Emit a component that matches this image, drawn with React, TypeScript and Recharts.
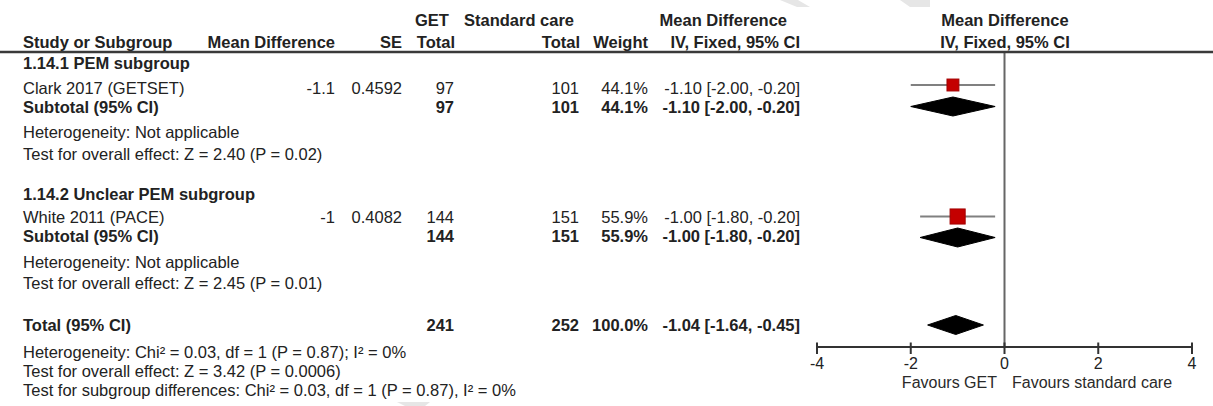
import React from 'react';
import { ScatterChart, Scatter, XAxis, YAxis, ReferenceLine } from 'recharts';

// ---------- data ----------
const subgroupTitles = ['1.14.1 PEM subgroup', '1.14.2 Unclear PEM subgroup'];
const studyNames = ['Clark 2017 (GETSET)', 'White 2011 (PACE)'];
const studyMD = [-1.1, -1];
const studySE = [0.4592, 0.4082];
const studyGET = [97, 144];
const studySC = [101, 151];
const studyWeight = [44.1, 55.9];
const studyLow = [-2.0, -1.8];
const studyHigh = [-0.2, -0.2];

const subtotalGET = [97, 144];
const subtotalSC = [101, 151];
const subtotalWeight = [44.1, 55.9];
const subtotalMD = [-1.1, -1.0];
const subtotalLow = [-2.0, -1.8];
const subtotalHigh = [-0.2, -0.2];
const subHeterogeneity = ['Heterogeneity: Not applicable', 'Heterogeneity: Not applicable'];
const subOverall = ['Test for overall effect: Z = 2.40 (P = 0.02)', 'Test for overall effect: Z = 2.45 (P = 0.01)'];

const totalGET = [241];
const totalSC = [252];
const totalWeight = [100.0];
const totalMD = [-1.04];
const totalLow = [-1.64];
const totalHigh = [-0.45];
const totalStats = [
  'Heterogeneity: Chi² = 0.03, df = 1 (P = 0.87); I² = 0%',
  'Test for overall effect: Z = 3.42 (P = 0.0006)',
  'Test for subgroup differences: Chi² = 0.03, df = 1 (P = 0.87), I² = 0%',
];

const xTicks = [-4, -2, 0, 2, 4];
const favourLabels = ['Favours GET', 'Favours standard care'];

// ---------- layout ----------
const W = 1213;
const H = 406;
const FONT = "'Liberation Sans', Arial, Helvetica, sans-serif";
const FS = 16.5;
const TEXT = '#222';
const PLOT_TOP = 52;
const PLOT_BOTTOM = 347;

const STUDY_MARK_Y = [85, 216.5];
const SUBTOTAL_MARK_Y = [106.5, 237.5];
const TOTAL_MARK_Y = 325;
const DIAMOND_HALF = 9.5;
const SQUARE_PER_WEIGHT = 0.27;

const BL = {
  h1: 26,
  h2: 48,
  sub: [69, 199.5],
  study: [94, 223],
  subtotal: [112.5, 242],
  het: [138, 268],
  test: [160, 289],
  total: 330.5,
  stats: [358, 377, 395.5],
};
const COL = { name: 23, md: 335, se: 402, get: 454, sc: 579, weight: 648, ci: 800 };

const fmtCI = (m: number, l: number, h: number) => `${m.toFixed(2)} [${l.toFixed(2)}, ${h.toFixed(2)}]`;
const fmtW = (w: number) => `${w.toFixed(1)}%`;

function T({ x, y, anchor = 'start', bold = false, children, size = FS, fill = TEXT }: any) {
  return (
    <text x={x} y={y} textAnchor={anchor} fontWeight={bold ? 700 : 400} fontSize={size} fontFamily={FONT} fill={fill} style={{ whiteSpace: 'pre' }}>
      {children}
    </text>
  );
}

const NoShape = () => <g />;

const SquareShape = (p: any) => {
  const s = SQUARE_PER_WEIGHT * p.payload.w;
  return <rect x={p.cx - s / 2} y={p.cy - s / 2} width={s} height={s} fill="#c40000" stroke="#a30000" strokeWidth={1} />;
};

const DiamondLine = (props: any) => {
  const pts = (props.points || []).map((p: any) => [p.x ?? p.cx, p.y ?? p.cy]);
  if (!pts.length) return <g />;
  const d = 'M' + pts.map((p: number[]) => `${p[0]},${p[1]}`).join('L') + 'Z';
  return <path d={d} fill="#000" stroke="#000" strokeWidth={1} />;
};

const AxisTick = (props: any) => {
  const { x, y, payload } = props;
  return (
    <g>
      <line x1={x} x2={x} y1={y - 4.5} y2={y + 7} stroke="#333" strokeWidth={2} />
      <text x={x} y={y + 21.5} textAnchor="middle" fontSize={16} fontFamily={FONT} fill={TEXT}>
        {payload.value}
      </text>
    </g>
  );
};

const diamond = (m: number, l: number, h: number, y: number) => [
  { x: l, y },
  { x: m, y: y - DIAMOND_HALF },
  { x: h, y },
  { x: m, y: y + DIAMOND_HALF },
];

const squareData = studyMD.map((m, i) => ({ x: m, y: STUDY_MARK_Y[i], w: studyWeight[i] }));
const ciData = studyMD.map((_, i) => [
  { x: studyLow[i], y: STUDY_MARK_Y[i] },
  { x: studyHigh[i], y: STUDY_MARK_Y[i] },
]);
const diamondData = [
  ...subtotalMD.map((m, i) => diamond(m, subtotalLow[i], subtotalHigh[i], SUBTOTAL_MARK_Y[i])),
  diamond(totalMD[0], totalLow[0], totalHigh[0], TOTAL_MARK_Y),
];

export default function App() {
  return (
    <div style={{ position: 'absolute', left: 0, top: 0, width: W, height: H, background: '#fff' }}>
      <div style={{ position: 'absolute', left: 0, top: 0 }}>
        <ScatterChart width={W} height={H} margin={{ top: PLOT_TOP, right: 21, bottom: 0, left: 817 }}>
          <XAxis
            type="number"
            dataKey="x"
            domain={[-4, 4]}
            ticks={xTicks}
            interval={0}
            allowDataOverflow
            height={H - PLOT_BOTTOM}
            tickLine={false}
            tickSize={0}
            tickMargin={0}
            axisLine={{ stroke: '#333', strokeWidth: 2 }}
            tick={AxisTick}
          />
          <YAxis type="number" dataKey="y" domain={[PLOT_TOP, PLOT_BOTTOM]} reversed hide />
          <ReferenceLine x={0} stroke="#666" strokeWidth={2} />
          {ciData.map((d, i) => (
            <Scatter key={`ci${i}`} data={d} shape={NoShape} line={{ stroke: '#808080', strokeWidth: 2 }} isAnimationActive={false} />
          ))}
          {diamondData.map((d, i) => (
            <Scatter key={`dm${i}`} data={d} shape={NoShape} line={DiamondLine} isAnimationActive={false} />
          ))}
          <Scatter data={squareData} shape={SquareShape} isAnimationActive={false} />
        </ScatterChart>
      </div>
      <svg width={W} height={H} style={{ position: 'absolute', left: 0, top: 0, pointerEvents: 'none' }}>
        {/* faint watermark bands */}
        <polygon points="780,0 798,0 810,7 797,7" fill="#e6e6e6" />
        <polygon points="900,0 930,0 930,7 910,7" fill="#e6e6e6" />
        <polygon points="397,402 430,402 425,406 405,406" fill="#e6e6e6" />

        {/* header */}
        <T x={415} y={BL.h1} bold>GET</T>
        <T x={464} y={BL.h1} bold>Standard care</T>
        <T x={787} y={BL.h1} bold anchor="end">Mean Difference</T>
        <T x={1005} y={BL.h1} bold anchor="middle">Mean Difference</T>
        <T x={COL.name} y={BL.h2} bold>Study or Subgroup</T>
        <T x={COL.md} y={BL.h2} bold anchor="end">Mean Difference</T>
        <T x={COL.se} y={BL.h2} bold anchor="end">SE</T>
        <T x={455} y={BL.h2} bold anchor="end">Total</T>
        <T x={580} y={BL.h2} bold anchor="end">Total</T>
        <T x={COL.weight} y={BL.h2} bold anchor="end">Weight</T>
        <T x={COL.ci} y={BL.h2} bold anchor="end">IV, Fixed, 95% CI</T>
        <T x={1005} y={BL.h2} bold anchor="middle">IV, Fixed, 95% CI</T>
        <line x1={0} x2={W} y1={52} y2={52} stroke="#3a3a3a" strokeWidth={2.5} />

        {subgroupTitles.map((title, i) => (
          <g key={title}>
            <T x={COL.name} y={BL.sub[i]} bold>{title}</T>
            <T x={COL.name} y={BL.study[i]}>{studyNames[i]}</T>
            <T x={COL.md} y={BL.study[i]} anchor="end">{String(studyMD[i])}</T>
            <T x={COL.se} y={BL.study[i]} anchor="end">{String(studySE[i])}</T>
            <T x={COL.get} y={BL.study[i]} anchor="end">{String(studyGET[i])}</T>
            <T x={COL.sc} y={BL.study[i]} anchor="end">{String(studySC[i])}</T>
            <T x={COL.weight} y={BL.study[i]} anchor="end">{fmtW(studyWeight[i])}</T>
            <T x={COL.ci} y={BL.study[i]} anchor="end">{fmtCI(studyMD[i], studyLow[i], studyHigh[i])}</T>

            <T x={COL.name} y={BL.subtotal[i]} bold>Subtotal (95% CI)</T>
            <T x={COL.get} y={BL.subtotal[i]} bold anchor="end">{String(subtotalGET[i])}</T>
            <T x={COL.sc} y={BL.subtotal[i]} bold anchor="end">{String(subtotalSC[i])}</T>
            <T x={COL.weight} y={BL.subtotal[i]} bold anchor="end">{fmtW(subtotalWeight[i])}</T>
            <T x={COL.ci} y={BL.subtotal[i]} bold anchor="end">{fmtCI(subtotalMD[i], subtotalLow[i], subtotalHigh[i])}</T>

            <T x={COL.name} y={BL.het[i]}>{subHeterogeneity[i]}</T>
            <T x={COL.name} y={BL.test[i]}>{subOverall[i]}</T>
          </g>
        ))}

        <T x={COL.name} y={BL.total} bold>Total (95% CI)</T>
        <T x={COL.get} y={BL.total} bold anchor="end">{String(totalGET[0])}</T>
        <T x={COL.sc} y={BL.total} bold anchor="end">{String(totalSC[0])}</T>
        <T x={COL.weight} y={BL.total} bold anchor="end">{fmtW(totalWeight[0])}</T>
        <T x={COL.ci} y={BL.total} bold anchor="end">{fmtCI(totalMD[0], totalLow[0], totalHigh[0])}</T>
        {totalStats.map((s, i) => (
          <T key={s} x={COL.name} y={BL.stats[i]}>{s}</T>
        ))}

        <T x={997} y={387.5} anchor="end" size={16} fill="#2a2a2a">{favourLabels[0]}</T>
        <T x={1012} y={387.5} size={16} fill="#2a2a2a">{favourLabels[1]}</T>
      </svg>
    </div>
  );
}
